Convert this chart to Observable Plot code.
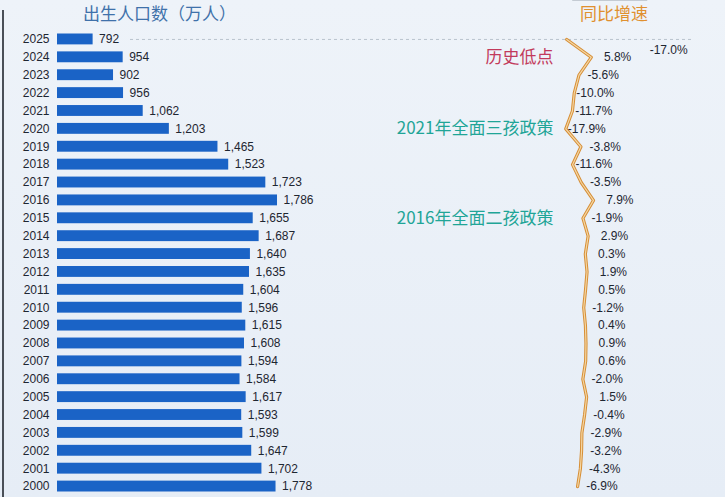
<!DOCTYPE html>
<html><head><meta charset="utf-8">
<script src="https://cdn.jsdelivr.net/npm/d3@7"></script>
<script src="https://cdn.jsdelivr.net/npm/@observablehq/plot@0.6"></script>
<style>
html,body{margin:0;padding:0;background:#eaf0f7;}
#wrap{position:relative;width:725px;height:497px;overflow:hidden;background:linear-gradient(#eef3f9,#e6edf6);font-family:"Liberation Sans",Arial,sans-serif;}
#wrap svg{position:absolute;left:0;top:0;background:transparent;}
.hdr{position:absolute;font-family:"Noto Sans CJK SC",sans-serif;font-size:17px;line-height:22px;white-space:nowrap;}
#edge{position:absolute;left:2px;top:10px;bottom:0;width:2px;background:#4a4f57;}
</style></head>
<body><div id="wrap">
<div id="edge"></div>
<div class="hdr" id="t1" style="left:83px;top:2px;color:#3f71aa;">出生人口数（万人）</div>
<div class="hdr" id="t2" style="left:580px;top:2px;color:#e0902f;">同比增速</div>
</div>
<script>
const years = ["2025","2024","2023","2022","2021","2020","2019","2018","2017","2016","2015","2014","2013","2012","2011","2010","2009","2008","2007","2006","2005","2004","2003","2002","2001","2000"];
const births = [792,954,902,956,1062,1203,1465,1523,1723,1786,1655,1687,1640,1635,1604,1596,1615,1608,1594,1584,1617,1593,1599,1647,1702,1778];
const growth = [-17.0,5.8,-5.6,-10.0,-11.7,-17.9,-3.8,-11.6,-3.5,7.9,-1.9,2.9,0.3,1.9,0.5,-1.2,0.4,0.9,0.6,-2.0,1.5,-0.4,-2.9,-3.2,-4.3,-6.9];
const noteYears = ["2024","2020","2015"];
const noteTexts = ["历史低点","2021年全面三孩政策","2016年全面二孩政策"];
const noteColors = ["#c23a5c","#1fa597","#1fa597"];

const rows = years.map((y,i)=>({year:y, v:births[i], g:growth[i]}));
const notes = noteYears.map((y,i)=>({year:y, text:noteTexts[i], color:noteColors[i]}));
const pct = v => (v<0?"-":"") + Math.abs(v).toFixed(1) + "%";
const fmt = d3.format(",");

const W = 725, H = 497, MT = 30, MB = 2;
const font = "'Liberation Sans', Arial, sans-serif";

const bars = Plot.plot({
  width: W, height: H,
  marginTop: MT, marginBottom: MB, marginLeft: 57, marginRight: 0,
  style: {background: "transparent", fontFamily: font, fontSize: "12px", color: "#1e2631"},
  x: {domain: [600, 4201], axis: null},
  y: {type: "band", domain: years, padding: 0, round: false, label: null},
  marks: [
    Plot.ruleY(["2025"], {stroke: "#b9c3ce", strokeDasharray: "3,3", insetLeft: 73, insetRight: 32}),
    Plot.axisY({tickSize: 0, tickPadding: 8, fontSize: 12, fill: "#1e2631"}),
    Plot.barX(rows, {x: "v", y: "year", fill: "#1a63c6", insetTop: 3.5, insetBottom: 3.5, clip: true}),
    Plot.text(rows, {x: "v", y: "year", text: d => fmt(d.v), textAnchor: "start", dx: 6, fontSize: 12, fill: "#1e2631"}),
    Plot.text(notes, {y: "year", frameAnchor: "right", dx: -172, textAnchor: "end", text: "text", fill: d => d.color, fontSize: 17, fontFamily: "'Noto Sans CJK SC', sans-serif"})
  ]
});

const low = rows.slice(0,1);
const rest = rows.slice(1);
const leader = (index, scales) => {
  const bw = scales.y.bandwidth ? scales.y.bandwidth : 0;
  const x0 = scales.x(low[0].g), y0 = scales.y(low[0].year) + bw/2;
  const g = d3.create("svg:line")
    .attr("x1", x0 + 6).attr("y1", y0 + 1)
    .attr("x2", x0 + 81).attr("y2", y0 + 11)
    .attr("stroke", "#9aa3ad").attr("stroke-width", 1);
  return g.node();
};

const gro = Plot.plot({
  width: W, height: H,
  marginTop: MT, marginBottom: MB, marginLeft: 563, marginRight: 119,
  style: {background: "transparent", fontFamily: font, fontSize: "12px"},
  x: {domain: [-20, 20], axis: null},
  y: {type: "band", domain: years, padding: 0, round: false, axis: null},
  marks: [
    leader,
    Plot.line(rows, {x: "g", y: "year", stroke: "#d68e36", strokeWidth: 3.2}),
    Plot.line(rows, {x: "g", y: "year", stroke: "#f5d7a4", strokeWidth: 1.2}),
    Plot.text(rest, {x: "g", y: "year", text: d => pct(d.g), textAnchor: "end", dx: 40, fontSize: 12, fill: "#1e2631"}),
    Plot.text(low, {x: "g", y: "year", text: d => pct(d.g), textAnchor: "end", dx: 121, dy: 11, fontSize: 12, fill: "#1e2631"})
  ]
});

const wrap = document.getElementById("wrap");
wrap.appendChild(bars);
wrap.appendChild(gro);
</script>
</body></html>
